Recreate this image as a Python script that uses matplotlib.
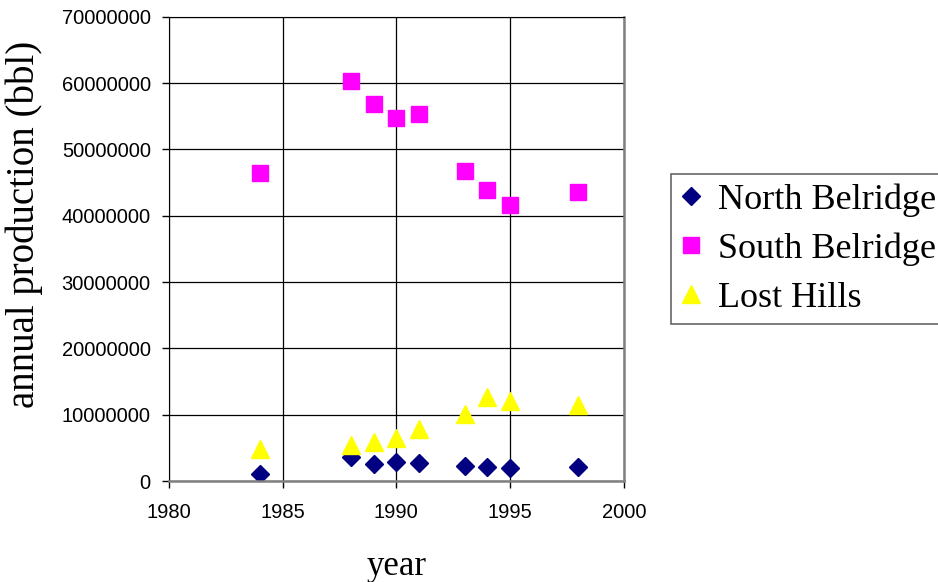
import matplotlib.pyplot as plt

years = [1984, 1988, 1989, 1990, 1991, 1993, 1994, 1995, 1998]
north_belridge = [1050000, 3600000, 2600000, 2800000, 2750000, 2200000, 2100000, 2000000, 2100000]
south_belridge = [46500000, 60400000, 56900000, 54800000, 55400000, 46800000, 43900000, 41600000, 43600000]
lost_hills = [4900000, 5400000, 5900000, 6500000, 7900000, 10100000, 12700000, 12000000, 11400000]

fig = plt.figure(figsize=(9.38, 5.82), dpi=100)
ax = fig.add_axes([0.18, 0.1735, 0.485, 0.7975])

ax.plot(years, north_belridge, linestyle="none", marker="D", markersize=9,
        color="#000080", label="North Belridge")
ax.plot(years, south_belridge, linestyle="none", marker="s", markersize=11,
        color="#FF00FF", label="South Belridge")
ax.plot(years, lost_hills, linestyle="none", marker="^", markersize=13,
        color="#FFFF00", label="Lost Hills")

ax.set_xlim(1980, 2000)
ax.set_ylim(0, 70000000)
ax.set_xticks(range(1980, 2001, 5))
ax.set_yticks(range(0, 70000001, 10000000))
ax.set_yticklabels([str(v) for v in range(0, 70000001, 10000000)])
ax.grid(True, color="black", linewidth=0.9)
ax.set_axisbelow(True)
ax.tick_params(direction="out", length=5, width=1, labelsize=14.5,
               labelfontfamily="Liberation Sans", pad=8)
ax.tick_params(axis="x", pad=11)
for side in ["left", "top"]:
    ax.spines[side].set_color("black")
for side in ["right", "bottom"]:
    ax.spines[side].set_color("#808080")
    ax.spines[side].set_linewidth(1.8)

ax.set_xlabel("year", family="Liberation Serif", fontsize=25, labelpad=20)
ax.set_ylabel("annual production (bbl)", family="Liberation Serif", fontsize=28)
ax.yaxis.set_label_coords(-0.276, 0.554)

leg = ax.legend(loc="center left", bbox_to_anchor=(0.7154, 0.572),
                bbox_transform=fig.transFigure, frameon=True, fancybox=False,
                edgecolor="#404040", prop={"family": "Liberation Serif", "size": 26},
                handlelength=0.6, handletextpad=0.45, labelspacing=0.43,
                borderpad=0.25, borderaxespad=0)
leg.get_frame().set_linewidth(1.2)

fig.savefig("out.png", dpi=100, facecolor="white")
